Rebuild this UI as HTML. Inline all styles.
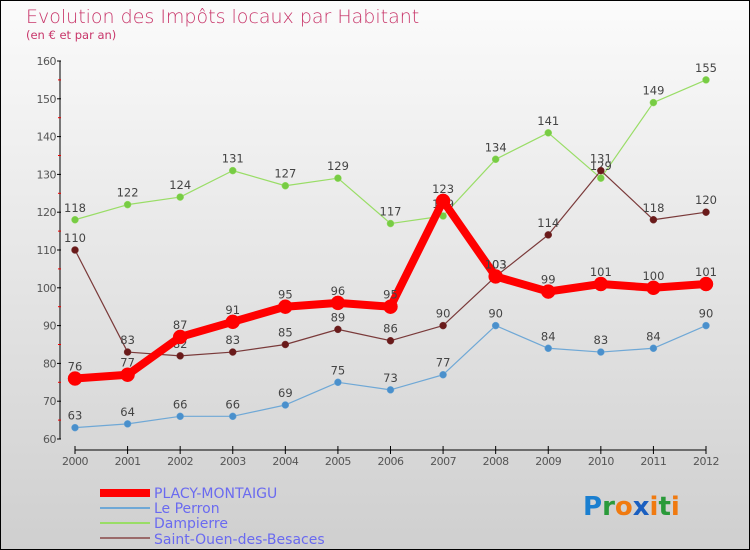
<!DOCTYPE html>
<html><head><meta charset="utf-8"><style>
body{margin:0}
svg{display:block;font-family:"DejaVu Sans","Liberation Sans",sans-serif}
</style></head><body>
<svg width="750" height="550" xmlns="http://www.w3.org/2000/svg">
<defs><linearGradient id="bg" x1="0" y1="0" x2="0" y2="1"><stop offset="0" stop-color="#fbfbfb"/><stop offset="1" stop-color="#cfcfcf"/></linearGradient></defs>
<rect x="0.5" y="0.5" width="749" height="549" fill="url(#bg)" stroke="#000"/>
<text x="26" y="23" font-size="19" fill="#c8366a" font-weight="200">Evolution des Impôts locaux par Habitant</text>
<text x="26" y="39" font-size="11.5" fill="#c8366a">(en € et par an)</text>
<g id="axes"></g>
<g id="series"></g>
<g>
<rect x="100" y="489" width="50" height="8" fill="#f00"/>
<text x="154" y="498" font-size="14" fill="#6a6af0">PLACY-MONTAIGU</text>
<rect x="100" y="507" width="50" height="2" fill="#6fa8d6"/>
<text x="154" y="513" font-size="14" fill="#6a6af0">Le Perron</text>
<rect x="100" y="522" width="50" height="2" fill="#99dd66"/>
<text x="154" y="528" font-size="14" fill="#6a6af0">Dampierre</text>
<rect x="100" y="537" width="50" height="2" fill="#9a6a6a"/>
<text x="154" y="544" font-size="14" fill="#6a6af0">Saint-Ouen-des-Besaces</text>
</g>
<text x="583" y="515" font-size="26" font-weight="bold"><tspan fill="#1a7fd0">P</tspan><tspan fill="#2a9a3a">r</tspan><tspan fill="#f07a10">o</tspan><tspan fill="#1a5fc0">x</tspan><tspan fill="#f07a10">i</tspan><tspan fill="#2a9a3a">t</tspan><tspan fill="#f07a10">i</tspan></text>
</svg>
<script>
const years=[2000,2001,2002,2003,2004,2005,2006,2007,2008,2009,2010,2011,2012];
const placy=[76,77,87,91,95,96,95,123,103,99,101,100,101];
const perron=[63,64,66,66,69,75,73,77,90,84,83,84,90];
const dampierre=[118,122,124,131,127,129,117,119,134,141,129,149,155];
const saintOuen=[110,83,82,83,85,89,86,90,103,114,131,118,120];
const yTicks=[60,70,80,90,100,110,120,130,140,150,160];
const NS="http://www.w3.org/2000/svg";
const xS=i=>75+i*(706-75)/(years.length-1);
const yS=v=>439-(v-60)*(439-61)/100;
function mk(t,a,p){const e=document.createElementNS(NS,t);for(const k in a)e.setAttribute(k,a[k]);p.appendChild(e);return e;}
const ax=document.getElementById('axes');
let e=mk('line',{x1:60,y1:61,x2:60,y2:439,stroke:'#000'},ax);


yTicks.forEach((v,i)=>{
 const t=mk('line',{x1:57,y1:yS(v),x2:61,y2:yS(v),stroke:'#000'},ax);
 
 
 if(i<yTicks.length-1){const m=mk('line',{x1:58,y1:yS(v+5),x2:61,y2:yS(v+5),stroke:'#e00'},ax);
 
 }
 const l=mk('text',{x:56,y:yS(v)+4,'text-anchor':'end','font-size':'11',fill:'#555','letter-spacing':'-0.5'},ax);
 
 
 l.textContent=v;
});
e=mk('line',{x1:75,y1:450,x2:706,y2:450,stroke:'#000'},ax);


years.forEach((y,i)=>{
 const t=mk('line',{x1:xS(i),y1:446,x2:xS(i),y2:454,stroke:'#000'},ax);
 
 
 const l=mk('text',{x:xS(i),y:465,'text-anchor':'middle','font-size':'11',fill:'#555','letter-spacing':'-0.5'},ax);
 
 
 l.textContent=y;
});
const sg=document.getElementById('series');
function draw(vals,name,col,mcol,w,r){
 const g=mk('g',{},sg);
 
 
 const pl=mk('polyline',{points:vals.map((v,i)=>xS(i)+','+yS(v)).join(' '),fill:'none',stroke:col,'stroke-width':w,'stroke-linejoin':'round'},g);
 
 
 vals.forEach((v,i)=>{
  const c=mk('circle',{cx:xS(i),cy:yS(v),r:r,fill:mcol,stroke:col,'stroke-width':0.5},g);
  
  
  const t=mk('text',{x:xS(i),y:yS(v)-8,'text-anchor':'middle','font-size':'11.5',fill:'#444'},g);
  
  
  t.textContent=v;
 });
}
draw(perron,'le-perron','#6fa8d6','#4a90cc',1.2,3.5);
draw(dampierre,'dampierre','#99dd66','#77cc44',1.2,3.5);
draw(saintOuen,'saint-ouen','#7a3a3a','#6a1a1a',1.2,3.5);
draw(placy,'placy-montaigu','#f00','#f00',8,7);
</script>
</body></html>
